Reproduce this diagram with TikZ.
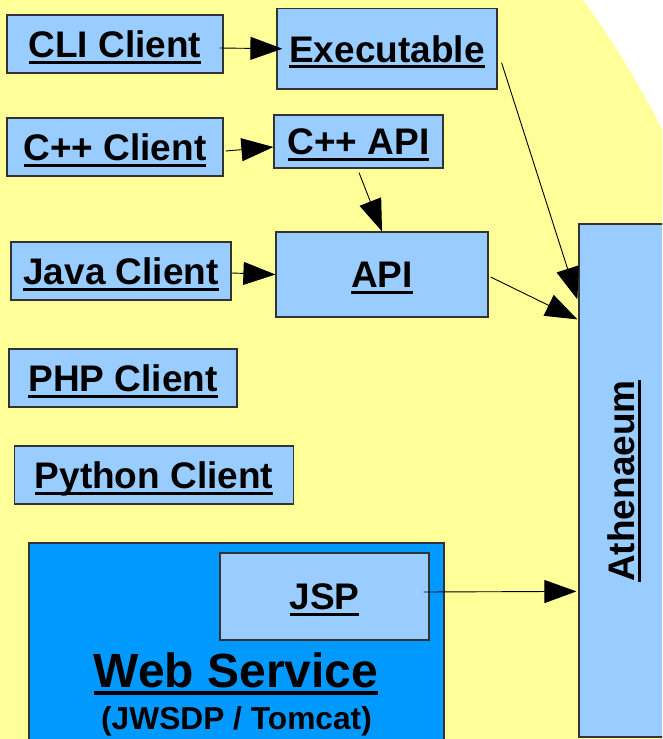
\documentclass[tikz,border=0pt]{standalone}
\usepackage{fontspec}
\setmainfont{Liberation Sans}
\usetikzlibrary{arrows.meta}
\definecolor{bgyellow}{HTML}{FFFF99}
\definecolor{boxblue}{HTML}{99CCFF}
\definecolor{wsblue}{HTML}{0099FF}
\definecolor{edgegray}{HTML}{333333}
% underlined label with a thick rule just below the baseline
\newcommand\ulx[1]{\setbox0\hbox{#1}\rlap{\rule[-0.17em]{\wd0}{0.08em}}\box0}
\begin{document}
\begin{tikzpicture}[x=1pt,y=-1pt,
  box/.style={draw=edgegray, line width=1.2pt, fill=boxblue, inner sep=0pt,
    font=\fontsize{37}{40}\selectfont\bfseries, text height=26.5pt, text depth=0pt},
  conn/.style={line width=0.9pt, -{Triangle[length=32pt,width=23pt]}}]
\useasboundingbox (0,0) rectangle (662,739);
\clip (0,0) rectangle (662,739);
\fill[white] (0,0) rectangle (662,739);
\fill[bgyellow] (-191.4,559.6) circle[radius=955.4];

% client boxes
\node[box, minimum width=216, minimum height=58] (cli) at (115,44) {\ulx{CLI Client}};
\node[box, minimum width=220, minimum height=80.5] (exe) at (387,48.75) {\ulx{Executable}};
\node[box, minimum width=216, minimum height=58] (cpc) at (115,147) {\ulx{C++ Client}};
\node[box, minimum width=169, minimum height=53] (cpapi) at (358.5,141.5) {\ulx{C++ API}};
\node[box, minimum width=220, minimum height=58] (java) at (121,271) {\ulx{Java Client}};
\node[box, minimum width=212, minimum height=85] (api) at (382,274.5) {\ulx{API}};
\node[box, minimum width=228, minimum height=58] (php) at (123,378) {\ulx{PHP Client}};
\node[box, minimum width=278.6, minimum height=58] (python) at (154,475) {\ulx{Python Client}};

% web service container
\node[draw=edgegray, line width=1.2pt, fill=wsblue, minimum width=415, minimum height=217, inner sep=0pt] (web) at (236.5,651.5) {};
\node[box, minimum width=209, minimum height=87] (jsp) at (324.5,596.5) {\ulx{JSP}};
\node[anchor=base, inner sep=0pt, font=\fontsize{48}{50}\selectfont\bfseries] (wstitle) at (236,687) {\ulx{Web Service}};
\node[anchor=base, inner sep=0pt, font=\fontsize{31.7}{34}\selectfont\bfseries] (wssub) at (236.5,729) {(JWSDP / Tomcat)};

% Athenaeum column
\node[draw=edgegray, line width=1.2pt, fill=boxblue, minimum width=86, minimum height=513, inner sep=0pt] (ath) at (622,480.5) {};
\node[rotate=90, inner sep=0pt, font=\fontsize{37}{40}\selectfont\bfseries, text height=26.5pt, text depth=0pt] (athlabel) at (621.5,481) {\ulx{Athenaeum}};

% connectors
\draw[conn] ([shift={(-4,4)}]cli.east) -- ([xshift=6pt]exe.west);
\draw[conn] ([shift={(2,4)}]cpc.east) -- ([shift={(0,5.5)}]cpapi.west);
\draw[conn] ([shift={(0.5,4)}]cpapi.south) -- (api.north);
\draw[conn] ([shift={(0,2)}]java.east) -- (api.west);
\draw[conn] ([shift={(4,14)}]exe.east) -- ([shift={(-1,76)}]ath.north west);
\draw[conn] ([shift={(2,2.5)}]api.east) -- ([shift={(-1,96)}]ath.north west);
\draw[conn] ([shift={(-6,-4.5)}]jsp.east) -- ([shift={(-2,368)}]ath.north west);
\end{tikzpicture}
\end{document}
